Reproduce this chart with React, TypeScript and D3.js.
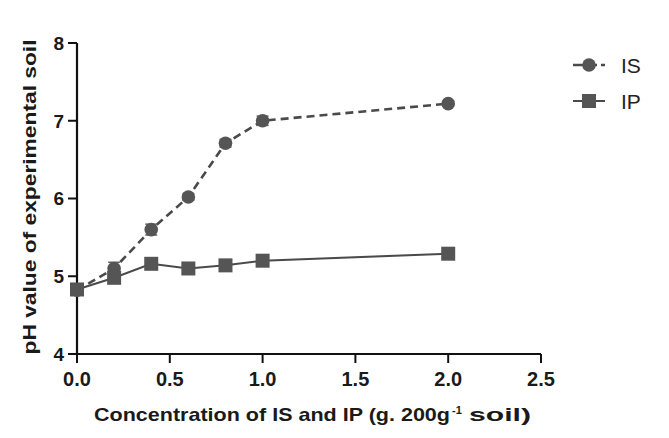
import React from "react";
import * as d3 from "d3";

const xValues = [0, 0.2, 0.4, 0.6, 0.8, 1.0, 2.0];
const isValues = [4.82, 5.1, 5.6, 6.02, 6.71, 7.0, 7.22];
const isErrors = [0.04, 0.08, 0.07, 0.04, 0.05, 0.06, 0.03];
const ipValues = [4.83, 4.98, 5.16, 5.1, 5.14, 5.2, 5.29];
const ipErrors = [0.03, 0.03, 0.03, 0.07, 0.03, 0.03, 0.03];
const xTicks = [0, 0.5, 1.0, 1.5, 2.0, 2.5];
const yTicks = [4, 5, 6, 7, 8];
const seriesNames = ["IS", "IP"];

export default function App() {
  const W = 669, H = 438;
  const x = d3.scaleLinear().domain([0, 2.5]).range([77, 541]);
  const y = d3.scaleLinear().domain([4, 8]).range([354, 43]);
  const line = d3.line<number>().x((_, i) => x(xValues[i])).y((d) => y(d));
  const font = "'Liberation Sans', Arial, sans-serif";
  const markColor = "#555555";
  const lineColor = "#4a4a4a";
  const txt = "#1a1a1a";

  const errBars = (vals: number[], errs: number[], key: string) =>
    vals.map((v, i) => {
      const cx = x(xValues[i]);
      const top = y(v + errs[i]);
      const bot = y(v - errs[i]);
      return (
        <g key={key + i} stroke="#666" strokeWidth={1.5}>
          <line x1={cx} x2={cx} y1={top} y2={bot} />
          <line x1={cx - 6} x2={cx + 6} y1={top} y2={top} />
          <line x1={cx - 6} x2={cx + 6} y1={bot} y2={bot} />
        </g>
      );
    });

  return (
    <svg width={W} height={H} style={{ position: "absolute", left: 0, top: 0, background: "#fff" }}>
      {/* axes */}
      <line x1={x(0)} x2={x(0)} y1={y(8)} y2={y(4)} stroke="#111" strokeWidth={2.2} />
      <line x1={x(0)} x2={x(2.5)} y1={y(4)} y2={y(4)} stroke="#111" strokeWidth={2.2} />
      {yTicks.map((t) => (
        <g key={"yt" + t}>
          <line x1={x(0) - 9} x2={x(0)} y1={y(t)} y2={y(t)} stroke="#111" strokeWidth={2} />
          <text x={x(0) - 13} y={y(t)} dy="0.36em" textAnchor="end" fontFamily={font} fontWeight="bold" fontSize={19} fill={txt}>
            {t}
          </text>
        </g>
      ))}
      {xTicks.map((t) => (
        <g key={"xt" + t}>
          <line x1={x(t)} x2={x(t)} y1={y(4)} y2={y(4) + 9} stroke="#111" strokeWidth={2} />
          <text x={x(t)} y={386} textAnchor="middle" fontFamily={font} fontWeight="bold" fontSize={20} fill={txt}>
            {t.toFixed(1)}
          </text>
        </g>
      ))}
      <text x={94} y={421} textLength={356} lengthAdjust="spacingAndGlyphs" fontFamily={font} fontWeight="bold" fontSize={18.5} fill={txt}>
        Concentration of IS and IP (g. 200g
      </text>
      <text x={452} y={414} fontFamily={font} fontWeight="bold" fontSize={11} fill={txt}>
        -1
      </text>
      <text x={469} y={421} textLength={62} lengthAdjust="spacingAndGlyphs" fontFamily={font} fontWeight="bold" fontSize={18.5} fill={txt}>
        soil)
      </text>
      <text transform={`translate(36,197) rotate(-90)`} textAnchor="middle" textLength={315} lengthAdjust="spacingAndGlyphs" fontFamily={font} fontWeight="bold" fontSize={18.5} fill={txt}>
        pH value of experimental soil
      </text>

      {/* IS series */}
      <path d={line(isValues) || ""} fill="none" stroke={lineColor} strokeWidth={2.6} strokeDasharray="8,5" />
      {errBars(isValues, isErrors, "ise")}
      {isValues.map((v, i) => (
        <circle key={"isc" + i} cx={x(xValues[i])} cy={y(v)} r={6.8} fill={markColor} />
      ))}

      {/* IP series */}
      <path d={line(ipValues) || ""} fill="none" stroke={lineColor} strokeWidth={2} />
      {errBars(ipValues, ipErrors, "ipe")}
      {ipValues.map((v, i) => (
        <rect key={"ipr" + i} x={x(xValues[i]) - 7} y={y(v) - 7} width={14} height={14} fill={markColor} />
      ))}

      {/* legend */}
      {seriesNames.map((name, i) => {
        const ly = 65 + i * 36;
        return (
          <g key={"lg" + name}>
            <line x1={573} x2={605} y1={ly} y2={ly} stroke={lineColor} strokeWidth={i === 0 ? 2.6 : 2} strokeDasharray={i === 0 ? "10,4" : undefined} />
            {i === 0 ? (
              <circle cx={589} cy={ly} r={6.8} fill={markColor} />
            ) : (
              <rect x={582} y={ly - 7} width={14} height={14} fill={markColor} />
            )}
            <text x={621} y={ly} dy="0.36em" fontFamily={font} fontSize={21} fill="#222">
              {name}
            </text>
          </g>
        );
      })}
    </svg>
  );
}
